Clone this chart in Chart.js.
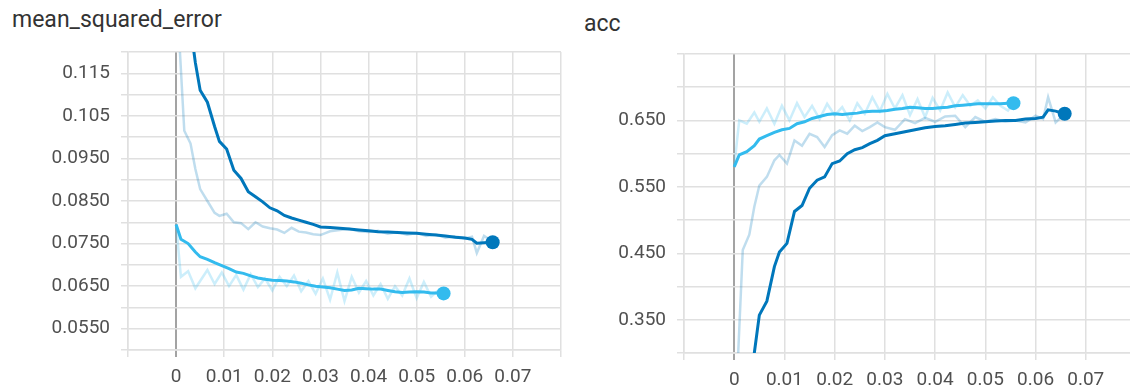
<!DOCTYPE html>
<html>
<head>
<meta charset="utf-8">
<script src="https://cdn.jsdelivr.net/npm/chart.js@4.4.1/dist/chart.umd.min.js"></script>
<style>
  html, body { margin: 0; padding: 0; background: #fff; overflow: hidden; width: 1130px; height: 390px; }
  .title { position: absolute; font-family: Roboto, sans-serif; font-size: 23px; line-height: 23px; color: #333; white-space: nowrap; }
  canvas { position: absolute; top: 0; }
</style>
</head>
<body>
<div class="title" style="left:12px;top:8px">mean_squared_error</div>
<div class="title" style="left:584px;top:12px">acc</div>
<canvas id="mse" width="570" height="390" style="left:0;width:570px;height:390px"></canvas>
<canvas id="acc" width="580" height="390" style="left:570px;width:580px;height:390px"></canvas>
<script>
// Relative time (x) of each logged point, per run
const runAX = [0.0005, 0.0017, 0.003, 0.004, 0.005, 0.0065, 0.008, 0.009, 0.0105, 0.012,
  0.0135, 0.015, 0.0165, 0.018, 0.0195, 0.021, 0.0225, 0.024, 0.0255, 0.027,
  0.0285, 0.030, 0.032, 0.034, 0.036, 0.038, 0.040, 0.042, 0.044, 0.046,
  0.048, 0.050, 0.052, 0.054, 0.056, 0.058, 0.060, 0.0615, 0.0625, 0.064, 0.0658];
const runBX = [0, 0.001, 0.0025, 0.004, 0.005, 0.0065, 0.008, 0.0095, 0.011, 0.0125,
  0.014, 0.0155, 0.017, 0.0185, 0.020, 0.0215, 0.023, 0.0245, 0.026, 0.0275,
  0.029, 0.0305, 0.032, 0.0335, 0.035, 0.0365, 0.038, 0.0395, 0.041, 0.0425,
  0.044, 0.0455, 0.047, 0.0485, 0.050, 0.0515, 0.053, 0.0545, 0.0556];

// mean_squared_error
const mseARaw = [0.126, 0.1015, 0.0985, 0.0925, 0.0878, 0.0850, 0.0822, 0.0815, 0.0820, 0.0800,
  0.0798, 0.0784, 0.0800, 0.0790, 0.0786, 0.0783, 0.0775, 0.0787, 0.0778, 0.0776,
  0.0772, 0.0770, 0.0779, 0.0782, 0.0785, 0.0779, 0.0777, 0.0780, 0.0773, 0.0777,
  0.0771, 0.0775, 0.0768, 0.0771, 0.0764, 0.0767, 0.0762, 0.0766, 0.0728, 0.0768, 0.0755];
const mseASmooth = [0.150, 0.140, 0.126, 0.1175, 0.1110, 0.1082, 0.1025, 0.0990, 0.0972, 0.0922,
  0.0903, 0.0872, 0.0860, 0.0848, 0.0834, 0.0827, 0.0816, 0.0810, 0.0805, 0.0800,
  0.0795, 0.0789, 0.0788, 0.0786, 0.0784, 0.0782, 0.0780, 0.0778, 0.0777, 0.0776,
  0.0775, 0.0774, 0.0772, 0.0770, 0.0768, 0.0765, 0.0763, 0.0760, 0.0751, 0.0752, 0.0753];
const mseBRaw = [0.0795, 0.0672, 0.0685, 0.0645, 0.0662, 0.0688, 0.0655, 0.0682, 0.0650, 0.0676,
  0.0642, 0.0678, 0.0648, 0.0668, 0.0640, 0.0672, 0.0650, 0.0675, 0.0638, 0.0662,
  0.0632, 0.0668, 0.0618, 0.0682, 0.0615, 0.0672, 0.0635, 0.0662, 0.0628, 0.0655,
  0.0620, 0.0650, 0.0628, 0.0668, 0.0622, 0.0660, 0.0625, 0.0640, 0.0633];
const mseBSmooth = [0.0795, 0.0760, 0.0750, 0.0730, 0.0719, 0.0713, 0.0705, 0.0698, 0.0691, 0.0683,
  0.0680, 0.0674, 0.0669, 0.0666, 0.0664, 0.0663, 0.0662, 0.0660, 0.0657, 0.0653,
  0.0650, 0.0648, 0.0646, 0.0643, 0.0640, 0.0641, 0.0645, 0.0644, 0.0643, 0.0643,
  0.0640, 0.0637, 0.0635, 0.0636, 0.0637, 0.0636, 0.0634, 0.0634, 0.0633];

// acc
const accARaw = [0.25, 0.455, 0.478, 0.520, 0.552, 0.565, 0.590, 0.598, 0.585, 0.620,
  0.612, 0.630, 0.625, 0.610, 0.628, 0.635, 0.630, 0.642, 0.634, 0.640,
  0.647, 0.640, 0.636, 0.652, 0.646, 0.654, 0.648, 0.656, 0.657, 0.640,
  0.655, 0.648, 0.652, 0.648, 0.650, 0.647, 0.657, 0.652, 0.685, 0.647, 0.660];
const accASmooth = [0.20, 0.24, 0.275, 0.300, 0.357, 0.378, 0.430, 0.452, 0.465, 0.513,
  0.522, 0.548, 0.560, 0.565, 0.585, 0.589, 0.600, 0.606, 0.609, 0.615,
  0.620, 0.627, 0.630, 0.633, 0.636, 0.639, 0.641, 0.642, 0.644, 0.646,
  0.647, 0.648, 0.649, 0.650, 0.650, 0.652, 0.653, 0.655, 0.666, 0.664, 0.660];
const accBRaw = [0.580, 0.650, 0.645, 0.662, 0.648, 0.668, 0.645, 0.672, 0.650, 0.676,
  0.655, 0.672, 0.652, 0.675, 0.658, 0.670, 0.650, 0.676, 0.660, 0.685,
  0.664, 0.690, 0.668, 0.688, 0.658, 0.682, 0.655, 0.684, 0.665, 0.692,
  0.670, 0.688, 0.672, 0.680, 0.668, 0.685, 0.672, 0.665, 0.676];
const accBSmooth = [0.580, 0.598, 0.603, 0.612, 0.622, 0.627, 0.632, 0.636, 0.638, 0.645,
  0.648, 0.653, 0.656, 0.659, 0.660, 0.659, 0.660, 0.661, 0.663, 0.664,
  0.664, 0.665, 0.667, 0.668, 0.670, 0.669, 0.668, 0.668, 0.669, 0.670,
  0.672, 0.673, 0.674, 0.675, 0.675, 0.675, 0.675, 0.676, 0.676];

// Tick labels
const xTickLabels = [0, 0.01, 0.02, 0.03, 0.04, 0.05, 0.06, 0.07];
const mseTickLabels = [0.055, 0.065, 0.075, 0.085, 0.095, 0.105, 0.115];
const accTickLabels = [0.35, 0.45, 0.55, 0.65];

const COLOR_A = '#0077bb';
const COLOR_B = '#33bbee';
const RAW_A = 'rgba(0,119,187,0.25)';
const RAW_B = 'rgba(51,187,238,0.25)';

const FONT = { family: 'Roboto, sans-serif', size: 19 };
const TEXT = '#505050';
const GRID = '#e0e0e0';
const ZERO = '#a3a3a3';

function series(xs, ys, color, width, order) {
  return {
    data: xs.map((x, i) => ({ x: x, y: ys[i] })),
    borderColor: color, backgroundColor: color, borderWidth: width,
    pointRadius: 0, pointHoverRadius: 0, tension: 0, fill: false, order: order
  };
}
function lastPoint(xs, ys, color) {
  const n = xs.length - 1;
  return {
    data: [{ x: xs[n], y: ys[n] }], showLine: false,
    pointRadius: 7, pointHoverRadius: 7, pointBorderWidth: 0,
    pointBackgroundColor: color, borderColor: color, order: 0
  };
}
function near(list, v) { return list.some(t => Math.abs(t - v) < 1e-7); }

function build(id, cfg) {
  new Chart(document.getElementById(id), {
    type: 'line',
    data: {
      datasets: [
        lastPoint(runAX, cfg.aSmooth, COLOR_A),
        lastPoint(runBX, cfg.bSmooth, COLOR_B),
        series(runAX, cfg.aSmooth, COLOR_A, 3, 1),
        series(runBX, cfg.bSmooth, COLOR_B, 3, 1),
        series(runAX, cfg.aRaw, RAW_A, 2.5, 2),
        series(runBX, cfg.bRaw, RAW_B, 2.5, 2)
      ]
    },
    options: {
      responsive: false,
      animation: false,
      devicePixelRatio: 1,
      layout: { padding: cfg.padding },
      plugins: { legend: { display: false }, tooltip: { enabled: false } },
      scales: {
        x: {
          type: 'linear', min: -0.01, max: 0.08,
          afterFit: s => { s.height = cfg.xAxisHeight; },
          border: { color: GRID, width: 1.5 },
          grid: {
            color: c => (c.tick && Math.abs(c.tick.value) < 1e-9) ? ZERO : GRID,
            tickColor: c => (c.tick && Math.abs(c.tick.value) < 1e-9) ? ZERO : GRID,
            lineWidth: c => (c.tick && Math.abs(c.tick.value) < 1e-9) ? 2 : 1.5,
            tickLength: 7
          },
          ticks: {
            stepSize: 0.01, autoSkip: false, maxRotation: 0, padding: cfg.xPad,
            color: TEXT, font: FONT,
            callback: v => near(xTickLabels, v) ? (Math.abs(v) < 1e-9 ? '0' : v.toFixed(2)) : ''
          }
        },
        y: {
          min: cfg.yMin, max: cfg.yMax,
          afterFit: s => { s.width = cfg.yAxisWidth; },
          border: { color: GRID, width: 1.5 },
          grid: { color: GRID, tickColor: GRID, lineWidth: 1.5, tickLength: 7 },
          ticks: {
            stepSize: cfg.yStep, autoSkip: false, padding: 11,
            color: TEXT, font: FONT,
            callback: v => near(cfg.yLabels, v) ? Number(v).toPrecision(3) : ''
          }
        }
      }
    }
  });
}

build('mse', {
  aRaw: mseARaw, aSmooth: mseASmooth, bRaw: mseBRaw, bSmooth: mseBSmooth,
  yMin: 0.05, yMax: 0.12, yStep: 0.005, yLabels: mseTickLabels,
  yAxisWidth: 128, xAxisHeight: 40, xPad: 9,
  padding: { top: 52, right: 5, left: 0, bottom: 0 }
});
build('acc', {
  aRaw: accARaw, aSmooth: accASmooth, bRaw: accBRaw, bSmooth: accBSmooth,
  yMin: 0.3, yMax: 0.75, yStep: 0.05, yLabels: accTickLabels,
  yAxisWidth: 114, xAxisHeight: 37, xPad: 9,
  padding: { top: 54, right: 14, left: 0, bottom: 0 }
});
</script>
</body>
</html>
